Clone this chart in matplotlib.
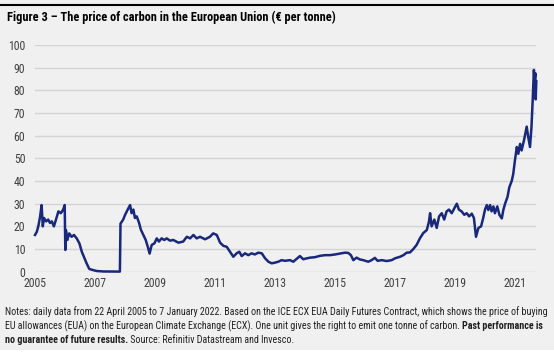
import numpy as np
import matplotlib
matplotlib.use("Agg")
import matplotlib.pyplot as plt
from matplotlib.patches import Rectangle
from matplotlib import font_manager as fm

# EUA price (decimal year, EUR per tonne)
years = [2005.31, 2005.37, 2005.42, 2005.48, 2005.53, 2005.57, 2005.61, 2005.68, 2005.75, 2005.81,
         2005.87, 2005.94, 2006.01, 2006.09, 2006.17, 2006.25, 2006.30, 2006.32, 2006.34, 2006.39,
         2006.45, 2006.53, 2006.61, 2006.70, 2006.79, 2006.87, 2006.94, 2007.03, 2007.12, 2007.25,
         2007.37, 2007.60, 2008.14, 2008.16, 2008.25, 2008.31, 2008.40, 2008.48, 2008.53, 2008.59,
         2008.64, 2008.70, 2008.78, 2008.84, 2008.92, 2009.00, 2009.07, 2009.13, 2009.20, 2009.29,
         2009.37, 2009.44, 2009.53, 2009.62, 2009.70, 2009.81, 2009.92, 2010.09, 2010.25, 2010.37,
         2010.48, 2010.59, 2010.70, 2010.81, 2010.98, 2011.14, 2011.25, 2011.37, 2011.48, 2011.59,
         2011.70, 2011.81, 2011.92, 2012.03, 2012.12, 2012.20, 2012.31, 2012.42, 2012.53, 2012.64,
         2012.75, 2012.87, 2012.98, 2013.09, 2013.20, 2013.31, 2013.42, 2013.53, 2013.64, 2013.81,
         2013.92, 2014.05, 2014.14, 2014.25, 2014.37, 2014.48, 2014.64, 2014.81, 2014.98, 2015.14,
         2015.31, 2015.48, 2015.64, 2015.75, 2015.84, 2015.92, 2016.03, 2016.14, 2016.25, 2016.42,
         2016.53, 2016.64, 2016.73, 2016.87, 2017.03, 2017.20, 2017.31, 2017.48, 2017.59, 2017.70,
         2017.81, 2017.92, 2018.03, 2018.14, 2018.25, 2018.37, 2018.44, 2018.48, 2018.53, 2018.62,
         2018.70, 2018.78, 2018.87, 2018.95, 2019.03, 2019.11, 2019.20, 2019.29, 2019.37, 2019.44,
         2019.53, 2019.62, 2019.70, 2019.78, 2019.87, 2019.94, 2020.01, 2020.09, 2020.18, 2020.25,
         2020.31, 2020.37, 2020.42, 2020.48, 2020.53, 2020.59, 2020.64, 2020.72, 2020.79, 2020.87,
         2020.92, 2020.98, 2021.06, 2021.12, 2021.20, 2021.25, 2021.31, 2021.37, 2021.42, 2021.48,
         2021.53, 2021.61, 2021.70, 2021.75, 2021.81, 2021.86, 2021.90, 2021.92, 2021.94, 2021.96,
         2021.99, 2022.00, 2022.02]
price = [16.2, 17.6, 20.0, 24.3, 29.4, 20.0, 23.7, 22.2, 23.0, 21.5,
         22.2, 20.0, 23.0, 26.6, 25.8, 27.4, 29.4, 9.6, 18.4, 14.0,
         16.9, 15.4, 16.2, 14.7, 12.5, 8.8, 6.6, 3.7, 1.2, 0.7,
         0.3, 0.1, 0.05, 21.2, 23.0, 25.0, 27.4, 29.4, 25.8, 27.4,
         23.7, 24.4, 21.5, 18.5, 16.2, 14.0, 11.0, 8.0, 11.8, 12.5,
         14.7, 13.3, 14.7, 14.0, 14.7, 13.7, 14.0, 12.8, 13.3, 15.4,
         14.7, 16.2, 14.7, 15.4, 14.3, 15.4, 16.9, 16.2, 12.8, 11.4,
         11.0, 8.8, 6.6, 8.1, 8.8, 6.9, 8.1, 7.3, 8.1, 7.6,
         8.4, 8.1, 5.9, 4.4, 3.7, 4.0, 4.4, 5.1, 4.8, 5.1,
         4.4, 5.9, 6.9, 5.5, 5.9, 6.2, 6.4, 7.0, 7.3, 7.3,
         7.6, 8.0, 8.4, 8.3, 7.3, 5.1, 6.2, 5.4, 5.1, 4.4,
         5.1, 6.1, 4.8, 5.1, 4.7, 5.1, 5.9, 6.6, 7.3, 8.4,
         8.5, 10.0, 11.8, 14.7, 17.0, 18.4, 22.0, 25.8, 20.0, 23.0,
         19.3, 24.4, 25.8, 23.0, 26.6, 27.4, 25.8, 28.0, 30.0, 27.4,
         26.6, 25.1, 25.8, 24.4, 25.6, 23.7, 15.4, 19.3, 20.0, 23.7,
         27.4, 29.4, 27.2, 29.4, 26.6, 28.8, 25.8, 28.8, 25.1, 23.5,
         27.2, 30.0, 33.0, 37.2, 40.0, 43.0, 49.3, 55.0, 52.0, 56.4,
         53.5, 58.0, 64.0, 59.5, 55.0, 64.0, 75.8, 83.0, 89.0, 84.6,
         87.5, 76.0, 84.0]

tick_labels = ['2005', '2007', '2009', '2011', '2013', '2015', '2017', '2019', '2021']
y_ticks = list(range(0, 101, 10))

title = "Figure 3 \u2013 The price of carbon in the European Union (\u20ac per tonne)"
note1 = ("Notes: daily data from 22 April 2005 to 7 January 2022. Based on the ICE ECX EUA Daily "
         "Futures Contract, which shows the price of buying")
note2a = ("EU allowances (EUA) on the European Climate Exchange (ECX). One unit gives the right "
          "to emit one tonne of carbon. ")
note2b = "Past performance is"
note3a = "no guarantee of future results."
note3b = " Source: Refinitiv Datastream and Invesco."


def pick(cands):
    for c in cands:
        try:
            fm.findfont(fm.FontProperties(family=c), fallback_to_default=False)
            return c
        except ValueError:
            continue
    return 'DejaVu Sans'


font = pick(['Liberation Sans Narrow', 'Arial Narrow', 'DejaVu Sans Condensed',
             'Roboto Condensed', 'Open Sans Condensed', 'Liberation Sans'])
plt.rcParams['font.family'] = [font, 'DejaVu Sans']

W, H = 554, 355
bg = '#f0f0f0'
fig = plt.figure(figsize=(W / 100, H / 100), dpi=100, facecolor=bg)
fig.patches.append(Rectangle((0, 0), 1, 5 / H, transform=fig.transFigure,
                             facecolor='white', edgecolor='none'))
fig.add_artist(plt.Line2D([0, 1], [1 - 5 / H, 1 - 5 / H], transform=fig.transFigure,
                          color='black', lw=1.5))

x_left, x_right, y_top, y_bot = 35, 536, 45, 271.7
ax = fig.add_axes([x_left / W, 1 - y_bot / H, (x_right - x_left) / W, (y_bot - y_top) / H])
ax.set_facecolor(bg)
ax.plot(years, price, color='#18287a', lw=1.8, clip_on=False, zorder=3)

start = years[0]
ax.set_xlim(start, start + (x_right - x_left) / 30.0)
ax.set_ylim(0, 100)
ax.set_xticks([start + 2 * i for i in range(len(tick_labels))])
ax.set_xticklabels(tick_labels)
ax.set_yticks(y_ticks)
ax.grid(axis='y', color='#d4d4d4', lw=1.0)
ax.set_axisbelow(True)
for s in ax.spines.values():
    s.set_visible(False)
ax.tick_params(length=0, labelsize=8.5, labelcolor='#404040')
ax.tick_params(axis='y', pad=7)
ax.tick_params(axis='x', pad=4)

renderer = fig.canvas.get_renderer()


def fit(s, target_px, size, bold=False):
    t = fig.text(0, 0, s, fontsize=size, fontweight='bold' if bold else 'normal')
    w = t.get_window_extent(renderer=renderer).width
    t.remove()
    return size * target_px / w


tfs = fit(title, 330, 8, bold=True)
fig.text(7 / W, 1 - 17 / H, title, fontsize=tfs, fontweight='bold', va='center', ha='left')

fs = fit(note1, 545, 7)


def put(x_px, y_px, s, bold=False):
    t = fig.text(x_px / W, 1 - y_px / H, s, fontsize=fs, va='center', ha='left',
                 fontweight='bold' if bold else 'normal', color='#202020')
    bb = t.get_window_extent(renderer=renderer)
    return bb.x1


put(5, 312, note1)
xe = put(5, 326, note2a)
put(xe, 326, note2b, bold=True)
xe = put(5, 340, note3a, bold=True)
put(xe, 340, note3b)

fig.savefig('out.png', dpi=100, facecolor=bg)
